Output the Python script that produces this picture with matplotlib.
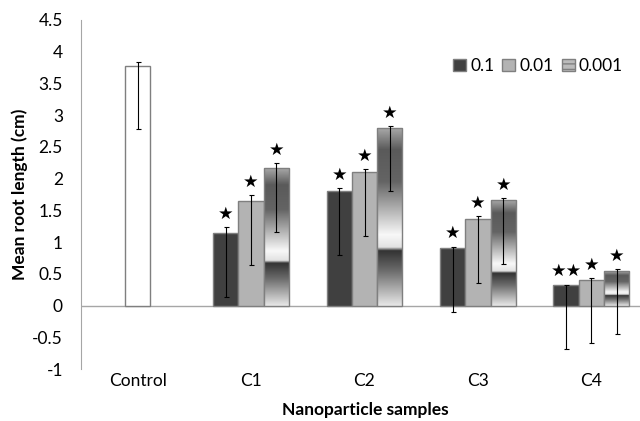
#!/usr/bin/env python3

# Root length chart: control vs nanoparticle samples at three concentrations
import matplotlib
matplotlib.use("Agg")
import matplotlib.pyplot as plt
import numpy as np
from matplotlib.colors import LinearSegmentedColormap
from matplotlib.patches import Patch

plt.rcParams['font.family'] = ['Lato', 'DejaVu Sans']


##########################################################################
# DATA
##########################################################################

categories = ["Control", "C1", "C2", "C3", "C4"]
series_names = ["0.1", "0.01", "0.001"]

control_mean = 3.78
control_err_hi = 0.06
control_err_lo = 1.0

# one value per sample C1..C4
mean_01 = [1.14, 1.80, 0.90, 0.32]
mean_001 = [1.64, 2.10, 1.36, 0.41]
mean_0001 = [2.16, 2.80, 1.66, 0.55]

err_hi_01 = [0.09, 0.05, 0.03, 0.01]
err_hi_001 = [0.10, 0.05, 0.05, 0.03]
err_hi_0001 = [0.09, 0.03, 0.04, 0.02]

err_lo_01 = [1.0, 1.0, 1.0, 1.0]
err_lo_001 = [1.0, 1.0, 1.0, 1.0]
err_lo_0001 = [1.0, 1.0, 1.0, 1.0]

stars_01 = ["★", "★", "★", "★★"]
stars_001 = ["★", "★", "★", "★"]
stars_0001 = ["★", "★", "★", "★"]


##########################################################################
# STYLE
##########################################################################

W = 0.223
EDGE = "#7f7f7f"
DARK = "#404040"
LIGHT = "#b3b3b3"

# vertical gradient used for the 0.001 bars (top -> bottom)
grad_cmap = LinearSegmentedColormap.from_list("refl", [
    (0.00, "#a8a8a8"),
    (0.12, "#5a5a5a"),
    (0.30, "#646464"),
    (0.60, "#f8f8f8"),
    (0.67, "#e2e2e2"),
    (0.69, "#333333"),
    (0.80, "#6a6a6a"),
    (1.00, "#e8e8e8"),
])
grad = np.linspace(0, 1, 256).reshape(-1, 1)


##########################################################################
# GRAPHING
##########################################################################

fig = plt.figure(figsize=(6.4, 4.21), dpi=100)
ax = fig.add_axes([81 / 640, 52 / 421, 567 / 640, 349 / 421])

x = np.arange(1, len(categories))
ebar = dict(ecolor="black", elinewidth=0.8, capsize=1.8, capthick=0.8)

# control bar
ax.bar(0, control_mean, W, color="white", edgecolor=EDGE, linewidth=1.0, zorder=2)
ax.errorbar(0, control_mean, yerr=[[control_err_lo], [control_err_hi]],
            fmt="none", zorder=4, **ebar)

groups = [
    (mean_01, err_hi_01, err_lo_01, stars_01, DARK, -W),
    (mean_001, err_hi_001, err_lo_001, stars_001, LIGHT, 0.0),
    (mean_0001, err_hi_0001, err_lo_0001, stars_0001, None, W),
]

for means, e_hi, e_lo, stars, col, off in groups:
    xs = x + off
    if col is None:
        for xi, m in zip(xs, means):
            ax.imshow(grad, cmap=grad_cmap, aspect="auto", origin="upper",
                      extent=[xi - W / 2, xi + W / 2, 0, m], zorder=2,
                      interpolation="bilinear")
        ax.bar(xs, means, W, facecolor="none", edgecolor=EDGE, linewidth=1.0, zorder=3)
    else:
        ax.bar(xs, means, W, color=col, edgecolor=EDGE, linewidth=1.0, zorder=2)
    ax.errorbar(xs, means, yerr=[e_lo, e_hi], fmt="none", zorder=4, **ebar)
    for xi, m, eh, s in zip(xs, means, e_hi, stars):
        ax.annotate(s, (xi, m + eh), xytext=(0, 9.5), textcoords="offset points",
                    ha="center", va="center", fontsize=12.5,
                    family=["DejaVu Sans"], zorder=5)

ax.set_xlim(-0.5, len(categories) - 0.5)
ax.set_ylim(-1, 4.5)
ax.set_yticks(np.arange(-1, 4.51, 0.5))
ax.set_yticklabels(["%g" % v for v in np.arange(-1, 4.51, 0.5)])
ax.tick_params(axis="y", length=0, pad=13, labelsize=12.5)
ax.set_xticks([])

for xi, name in enumerate(categories):
    ax.text(xi, -1.07, name, ha="center", va="top", fontsize=12.5,
            transform=ax.transData)

for sp in ["top", "right", "bottom"]:
    ax.spines[sp].set_visible(False)
ax.spines["left"].set_color("#a6a6a6")
ax.axhline(0, color="#a6a6a6", linewidth=1.0, zorder=1)

ax.set_ylabel("Mean root length (cm)", fontsize=12.5, fontweight="bold", labelpad=3)
fig.text(365 / 640, 1 - 410 / 421, "Nanoparticle samples", ha="center", va="center",
         fontsize=12.5, fontweight="bold")

handles = [
    Patch(facecolor=DARK, edgecolor=EDGE),
    Patch(facecolor=LIGHT, edgecolor=EDGE),
    Patch(facecolor="#bbbbbb", edgecolor=EDGE, hatch="---"),
]
fig.legend(handles, series_names, loc="center", bbox_to_anchor=(538 / 640, 1 - 66 / 421),
           ncol=3, frameon=False, fontsize=12.5, handlelength=0.75, handleheight=0.75,
           handletextpad=0.25, columnspacing=0.45, borderpad=0)

fig.savefig("out.png", dpi=100)
